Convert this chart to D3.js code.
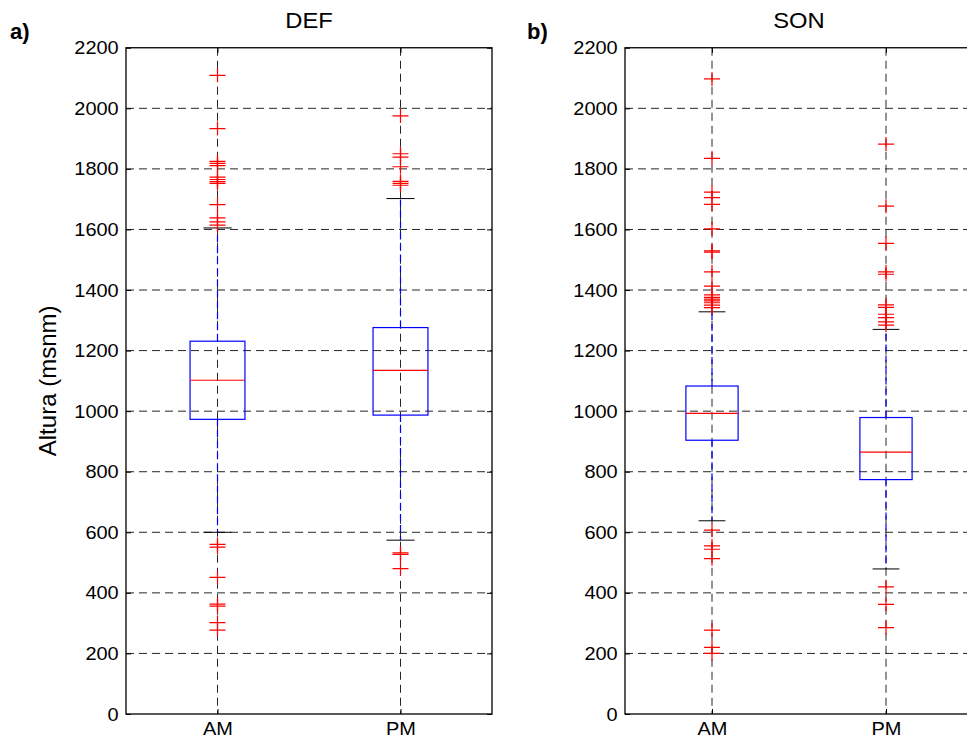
<!DOCTYPE html>
<html>
<head>
<meta charset="utf-8">
<script src="https://cdn.jsdelivr.net/npm/d3@7"></script>
<style>
  html, body { margin: 0; padding: 0; background: #fff; }
  svg { display: block; }
  text { font-family: "Liberation Sans", Arial, sans-serif; fill: #000; }
</style>
</head>
<body>
<div id="chart"></div>
<script>
// ---------------- data ----------------
const categories = ["AM", "PM"];
const panelTitles = ["DEF", "SON"];
const panelTags = ["a)", "b)"];
const yTicks = [0, 200, 400, 600, 800, 1000, 1200, 1400, 1600, 1800, 2000, 2200];

// DEF (a)
const defQ1 = [973, 987];
const defMedian = [1102, 1135];
const defQ3 = [1231, 1276];
const defLowerWhisker = [600, 574];
const defUpperWhisker = [1605, 1702];
const defOutliersAM = [2109, 1933, 1825, 1818, 1811, 1773, 1765, 1758, 1752, 1682, 1638, 1625, 1614,
                       560, 551, 451, 363, 356, 302, 277];
const defOutliersPM = [1975, 1850, 1839, 1807, 1759, 1752, 1746, 532, 527, 480];

// SON (b)
const sonQ1 = [904, 774];
const sonMedian = [993, 865];
const sonQ3 = [1083, 979];
const sonLowerWhisker = [638, 479];
const sonUpperWhisker = [1328, 1270];
const sonOutliersAM = [2097, 1835, 1723, 1705, 1683, 1602, 1529, 1525, 1460, 1413, 1384, 1376, 1370, 1364, 1358, 1350, 1342,
                       607, 555, 544, 513, 277, 220, 200];
const sonOutliersPM = [1882, 1677, 1554, 1460, 1452, 1351, 1343, 1320, 1309, 1295, 1284, 420, 362, 285];

// ---------------- layout ----------------
const W = 967, H = 747;
const svg = d3.select("#chart").append("svg").attr("width", W).attr("height", H);

const plotTop = 47.75, plotBottom = 714;
const panels = [
  { x0: 126, w: 366, title: panelTitles[0], tag: panelTags[0], tagX: 10,
    q1: defQ1, med: defMedian, q3: defQ3, lo: defLowerWhisker, hi: defUpperWhisker,
    out: [defOutliersAM, defOutliersPM], ylabel: true },
  { x0: 625, w: 348, title: panelTitles[1], tag: panelTags[1], tagX: 527,
    q1: sonQ1, med: sonMedian, q3: sonQ3, lo: sonLowerWhisker, hi: sonUpperWhisker,
    out: [sonOutliersAM, sonOutliersPM], ylabel: false }
];

const y = d3.scaleLinear().domain([0, 2200]).range([plotBottom, plotTop]);

panels.forEach(p => {
  const x = d3.scalePoint().domain(categories).range([p.x0, p.x0 + p.w]).padding(0.5);
  const step = x.step();
  const g = svg.append("g");

  // grid
  g.append("g").selectAll("line").data(yTicks.filter(t => t > 0 && t < 2200)).join("line")
    .attr("x1", p.x0).attr("x2", p.x0 + p.w)
    .attr("y1", d => y(d)).attr("y2", d => y(d))
    .attr("stroke", "#262626").attr("stroke-width", 1).attr("stroke-dasharray", "8,5");
  g.append("g").selectAll("line").data(categories).join("line")
    .attr("x1", d => x(d)).attr("x2", d => x(d))
    .attr("y1", plotTop).attr("y2", plotBottom)
    .attr("stroke", "#262626").attr("stroke-width", 1).attr("stroke-dasharray", "8,5");

  // boxes
  const boxes = g.append("g").selectAll("g").data(categories).join("g");
  boxes.append("line")
    .attr("x1", d => x(d)).attr("x2", d => x(d))
    .attr("y1", (d, i) => y(p.q3[i])).attr("y2", (d, i) => y(p.hi[i]))
    .attr("stroke", "#0000ff").attr("stroke-width", 1.2).attr("stroke-dasharray", "7,4");
  boxes.append("line")
    .attr("x1", d => x(d)).attr("x2", d => x(d))
    .attr("y1", (d, i) => y(p.q1[i])).attr("y2", (d, i) => y(p.lo[i]))
    .attr("stroke", "#0000ff").attr("stroke-width", 1.2).attr("stroke-dasharray", "7,4");
  ["hi", "lo"].forEach(k => {
    boxes.append("line")
      .attr("x1", d => x(d) - step * 0.077).attr("x2", d => x(d) + step * 0.077)
      .attr("y1", (d, i) => y(p[k][i])).attr("y2", (d, i) => y(p[k][i]))
      .attr("stroke", "#000").attr("stroke-width", 1);
  });
  boxes.append("rect")
    .attr("x", d => x(d) - step * 0.15).attr("width", step * 0.3)
    .attr("y", (d, i) => y(p.q3[i])).attr("height", (d, i) => y(p.q1[i]) - y(p.q3[i]))
    .attr("fill", "none").attr("stroke", "#0000ff").attr("stroke-width", 1.2);
  boxes.append("line")
    .attr("x1", d => x(d) - step * 0.15).attr("x2", d => x(d) + step * 0.15)
    .attr("y1", (d, i) => y(p.med[i])).attr("y2", (d, i) => y(p.med[i]))
    .attr("stroke", "#ff0000").attr("stroke-width", 1.2);
  categories.forEach((c, i) => {
    g.append("g").selectAll("path").data(p.out[i]).join("path")
      .attr("transform", d => `translate(${x(c)},${y(d)})`)
      .attr("d", "M-8,0H8M0,-7V7")
      .attr("stroke", "#ff0000").attr("stroke-width", 1.2).attr("fill", "none");
  });

  // axes
  const yAxis = d3.axisLeft(y).tickValues(yTicks).tickFormat(d3.format("d"))
    .tickSizeInner(-5).tickSizeOuter(0).tickPadding(7);
  const ya = g.append("g").attr("transform", `translate(${p.x0},0)`).call(yAxis);
  ya.select(".domain").remove();
  ya.selectAll(".tick line").attr("stroke", "#000");
  ya.selectAll("text").attr("font-size", 19).attr("font-family", "Liberation Sans, Arial, sans-serif")
    .attr("transform", "scale(1.05,1)");
  const yaR = g.append("g").attr("transform", `translate(${p.x0 + p.w},0)`)
    .call(d3.axisRight(y).tickValues(yTicks).tickSizeInner(-5).tickSizeOuter(0).tickFormat(""));
  yaR.select(".domain").remove();

  const xAxis = d3.axisBottom(x).tickSizeInner(-5).tickSizeOuter(0).tickPadding(8);
  const xa = g.append("g").attr("transform", `translate(0,${plotBottom})`).call(xAxis);
  xa.select(".domain").remove();
  xa.selectAll("text").attr("font-size", 19).attr("font-family", "Liberation Sans, Arial, sans-serif")
    .attr("transform", "scale(1.05,1)");
  const xaT = g.append("g").attr("transform", `translate(0,${plotTop})`)
    .call(d3.axisTop(x).tickSizeInner(-5).tickSizeOuter(0).tickFormat(""));
  xaT.select(".domain").remove();

  // frame
  g.append("rect").attr("x", p.x0).attr("y", plotTop).attr("width", p.w).attr("height", plotBottom - plotTop)
    .attr("fill", "none").attr("stroke", "#000").attr("stroke-width", 1.3);

  // title
  const cx = p.x0 + p.w / 2;
  g.append("text").attr("x", cx).attr("y", 28).attr("text-anchor", "middle")
    .attr("font-size", 22).text(p.title)
    .attr("transform", `translate(${cx},0) scale(1.08,1) translate(${-cx},0)`);
  // tag
  g.append("text").attr("x", p.tagX).attr("y", 39).attr("font-size", 22).attr("font-weight", "bold")
    .attr("font-family", "Open Sans, Liberation Sans, sans-serif").text(p.tag);

  if (p.ylabel) {
    svg.append("text")
      .attr("transform", `translate(56,${(plotTop + plotBottom) / 2}) rotate(-90)`)
      .attr("text-anchor", "middle").attr("font-size", 24).text("Altura (msnm)");
  }
});
</script>
</body>
</html>
